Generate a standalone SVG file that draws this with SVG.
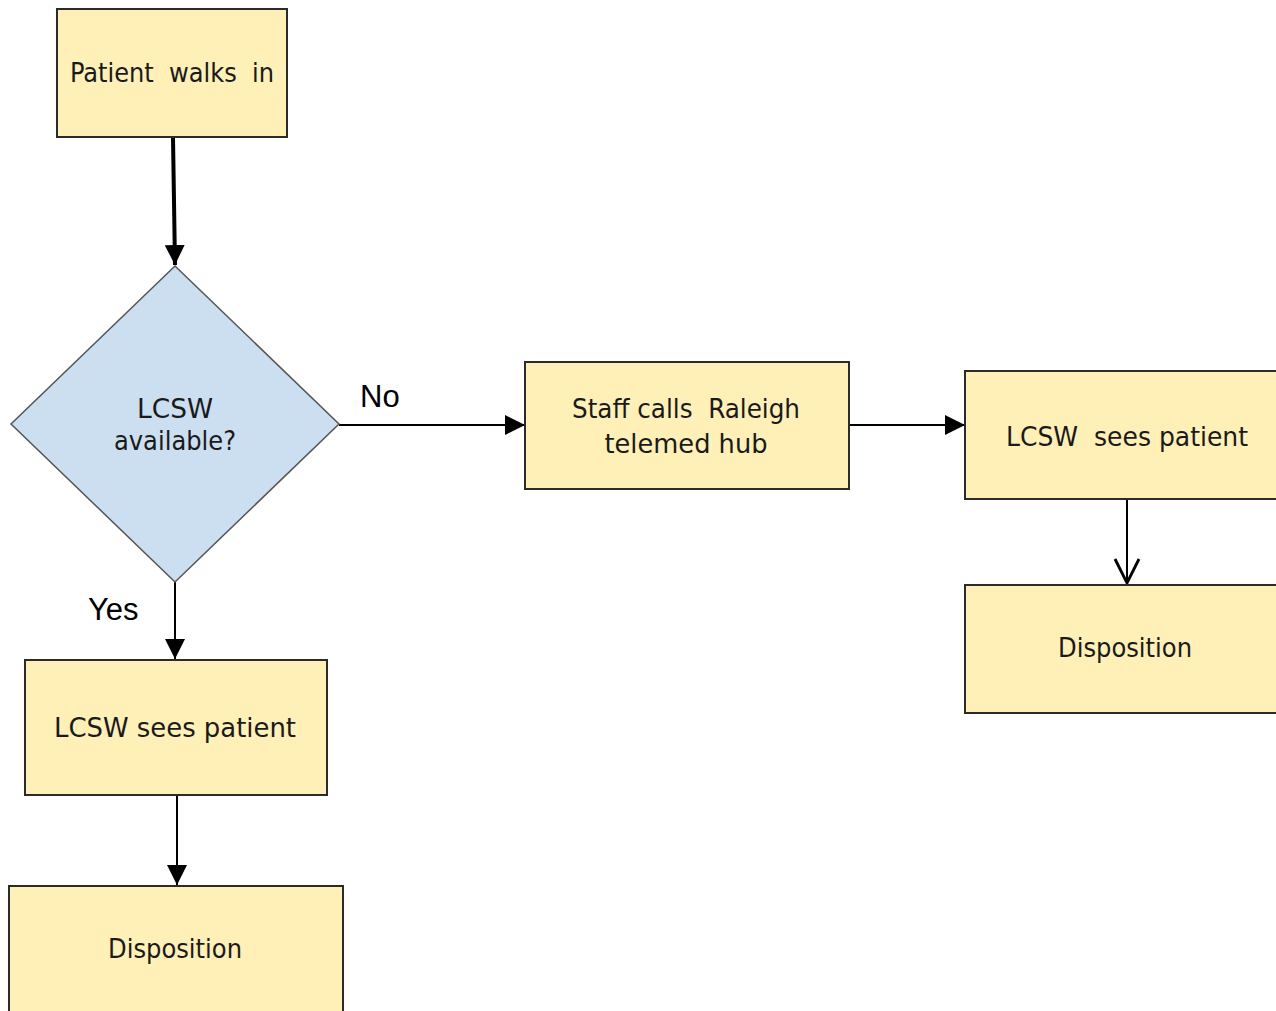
<svg xmlns="http://www.w3.org/2000/svg" width="1276" height="1011" viewBox="0 0 1276 1011">
  <style>
    .box { fill: #FFF0B8; stroke: #2b2b2b; stroke-width: 2; }
    .dec { fill: #CCDFF0; stroke: #555555; stroke-width: 1.5; }
    .txt { font-family: "DejaVu Sans Condensed", "DejaVu Sans", sans-serif; font-size: 27px; fill: #1a1a1a; text-anchor: middle; white-space: pre; }
    .lbl { font-family: "Liberation Sans", Arial, sans-serif; font-size: 31px; fill: #000; }
    .edge { fill: none; stroke: #000; stroke-width: 2; }
    .thick { stroke-width: 4; }
  </style>
  <defs>
    <marker id="tri" viewBox="0 0 10 10" refX="10" refY="5" markerWidth="20" markerHeight="20" markerUnits="userSpaceOnUse" orient="auto">
      <path d="M0,0 L10,5 L0,10 Z" fill="#000"/>
    </marker>
    <marker id="open" viewBox="0 0 14 14" refX="13" refY="7" markerWidth="28" markerHeight="28" markerUnits="userSpaceOnUse" orient="auto">
      <path d="M1,1 L13,7 L1,13" fill="none" stroke="#000" stroke-width="1.4"/>
    </marker>
  </defs>
  <rect width="1276" height="1011" fill="#fff"/>

  <g id="connectors">
    <line class="edge thick" x1="173" y1="137" x2="175" y2="265" marker-end="url(#tri)"/>
    <line class="edge" x1="339" y1="425" x2="525" y2="425" marker-end="url(#tri)"/>
    <line class="edge" x1="849" y1="425" x2="965" y2="425" marker-end="url(#tri)"/>
    <line class="edge" x1="175" y1="582" x2="175" y2="659" marker-end="url(#tri)"/>
    <line class="edge" x1="177" y1="795" x2="177" y2="885" marker-end="url(#tri)"/>
    <line class="edge" x1="1127" y1="499" x2="1127" y2="583" marker-end="url(#open)"/>
    <text class="lbl" x="360" y="407">No</text>
    <text class="lbl" x="88" y="620">Yes</text>
  </g>

  <g id="walk-in">
    <rect class="box" x="57" y="9" width="230" height="128"/>
    <text class="txt" x="172" y="82" textLength="204" lengthAdjust="spacingAndGlyphs" xml:space="preserve">Patient  walks  in</text>
  </g>

  <g id="lcsw-available">
    <polygon class="dec" points="175,266 339,424 175,582 11,424"/>
    <text class="txt" x="175" y="418" textLength="76" lengthAdjust="spacingAndGlyphs">LCSW</text>
    <text class="txt" x="175" y="450" textLength="122" lengthAdjust="spacingAndGlyphs">available?</text>
  </g>

  <g id="staff-calls">
    <rect class="box" x="525" y="362" width="324" height="127"/>
    <text class="txt" x="686" y="418" textLength="228" lengthAdjust="spacingAndGlyphs" xml:space="preserve">Staff calls  Raleigh</text>
    <text class="txt" x="686" y="453" textLength="163" lengthAdjust="spacingAndGlyphs">telemed hub</text>
  </g>

  <g id="lcsw-sees-right">
    <rect class="box" x="965" y="371" width="312" height="128"/>
    <text class="txt" x="1127" y="446" textLength="242" lengthAdjust="spacingAndGlyphs" xml:space="preserve">LCSW  sees patient</text>
  </g>

  <g id="disposition-right">
    <rect class="box" x="965" y="585" width="312" height="128"/>
    <text class="txt" x="1125" y="657" textLength="134" lengthAdjust="spacingAndGlyphs">Disposition</text>
  </g>

  <g id="lcsw-sees-left">
    <rect class="box" x="25" y="660" width="302" height="135"/>
    <text class="txt" x="175" y="737" textLength="242" lengthAdjust="spacingAndGlyphs">LCSW sees patient</text>
  </g>

  <g id="disposition-left">
    <rect class="box" x="9" y="886" width="334" height="140"/>
    <text class="txt" x="175" y="958" textLength="134" lengthAdjust="spacingAndGlyphs">Disposition</text>
  </g>
</svg>
